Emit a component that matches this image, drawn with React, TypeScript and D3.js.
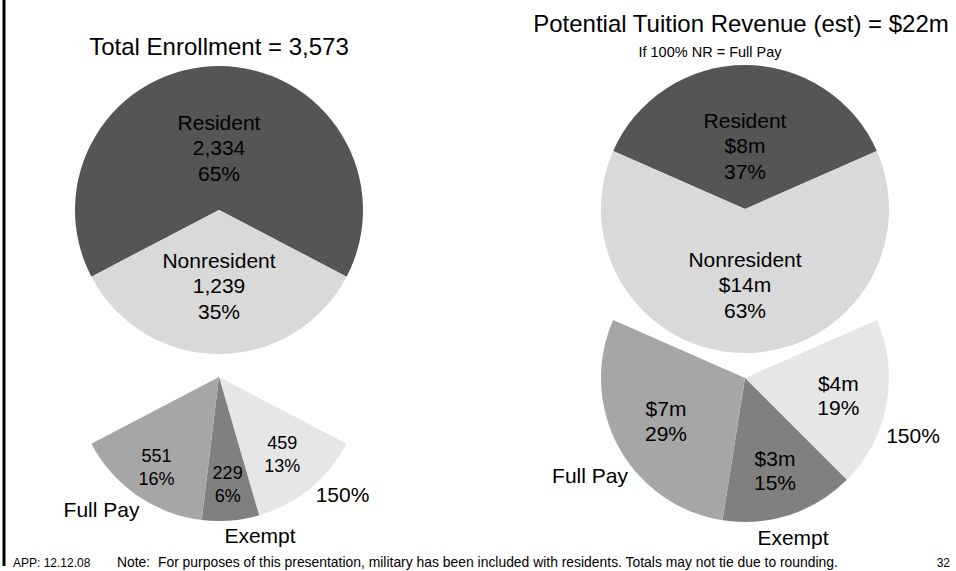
import React from "react";
import * as d3 from "d3";

// ---------- data ----------
const topCategories = ["Resident", "Nonresident"];
const enrollValues = [2334, 1239];
const enrollLabels = [
  ["Resident", "2,334", "65%"],
  ["Nonresident", "1,239", "35%"],
];
const revenueValues = [8.1, 13.9]; // $m
const revenueLabels = [
  ["Resident", "$8m", "37%"],
  ["Nonresident", "$14m", "63%"],
];

const nrCategories = ["150%", "Exempt", "Full Pay"];
const nrEnrollValues = [459, 229, 551];
const nrEnrollLabels = [
  ["459", "13%"],
  ["229", "6%"],
  ["551", "16%"],
];
const nrRevenueValues = [4.2, 3.3, 6.4]; // $m
const nrRevenueLabels = [
  ["$4m", "19%"],
  ["$3m", "15%"],
  ["$7m", "29%"],
];

const leftTitle = "Total Enrollment = 3,573";
const rightTitle = "Potential Tuition Revenue (est) = $22m";
const rightSubtitle = "If 100% NR = Full Pay";
const footLeft = "APP: 12.12.08";
const footNote =
  "Note:  For purposes of this presentation, military has been included with residents. Totals may not tie due to rounding.";
const footPage = "32";

// ---------- styles ----------
const FONT = "'Liberation Sans', Arial, Helvetica, sans-serif";
const topColors: Record<string, string> = {
  Resident: "#555555",
  Nonresident: "#d9d9d9",
};
const nrColors: Record<string, string> = {
  "150%": "#e6e6e6",
  Exempt: "#808080",
  "Full Pay": "#a6a6a6",
};

type PieCfg = {
  cx: number;
  cy: number;
  r: number;
  dy: number; // offset of the exploded breakdown
  values: number[];
  labels: string[][];
  labelR: number[]; // [Resident, Nonresident]
  nrValues: number[];
  nrLabels: string[][];
  nrLabelR: number[];
  nrFont: number;
  nrLh: number;
  outside: { name: string; dx: number; dy: number }[];
};

function MultiLine({
  x,
  cy,
  lines,
  fs,
  lh,
}: {
  x: number;
  cy: number;
  lines: string[];
  fs: number;
  lh: number;
}) {
  const n = lines.length;
  return (
    <text textAnchor="middle" fontSize={fs} fontFamily={FONT} fill="#000">
      {lines.map((t, i) => (
        <tspan key={i} x={x} y={cy + (i - (n - 1) / 2) * lh + 0.358 * fs}>
          {t}
        </tspan>
      ))}
    </text>
  );
}

function PiePair(cfg: PieCfg) {
  const { cx, cy, r, dy } = cfg;
  const total = d3.sum(cfg.values);
  const nrShare = cfg.values[1] / total;
  const start = Math.PI - nrShare * Math.PI;
  // order: Nonresident first (centered at bottom), then Resident
  const topArcs = d3
    .pie<number>()
    .sort(null)
    .startAngle(start)
    .endAngle(start + 2 * Math.PI)([cfg.values[1], cfg.values[0]]);
  const nrArc = topArcs[0];
  const resArc = topArcs[1];
  const arcGen = d3.arc<d3.PieArcDatum<number>>().innerRadius(0).outerRadius(r);

  const bottomArcs = d3
    .pie<number>()
    .sort(null)
    .startAngle(nrArc.startAngle)
    .endAngle(nrArc.endAngle)(cfg.nrValues);

  const polar = (a: number, rr: number, ox: number, oy: number) => [
    ox + rr * Math.sin(a),
    oy - rr * Math.cos(a),
  ];
  const mid = (d: d3.PieArcDatum<number>) => (d.startAngle + d.endAngle) / 2;

  const [rx, ry] = polar(mid(resArc), cfg.labelR[0], cx, cy);
  const [nx, ny] = polar(mid(nrArc), cfg.labelR[1], cx, cy);

  return (
    <g>
      <g transform={`translate(${cx},${cy})`}>
        <path d={arcGen(resArc) || ""} fill={topColors[topCategories[0]]} />
        <path d={arcGen(nrArc) || ""} fill={topColors[topCategories[1]]} />
      </g>
      <MultiLine x={rx} cy={ry} lines={cfg.labels[0]} fs={21} lh={25.5} />
      <MultiLine x={nx} cy={ny} lines={cfg.labels[1]} fs={21} lh={25.5} />

      <g transform={`translate(${cx},${cy + dy})`}>
        {bottomArcs.map((a, i) => (
          <path key={i} d={arcGen(a) || ""} fill={nrColors[nrCategories[i]]} />
        ))}
      </g>
      {bottomArcs.map((a, i) => {
        const [lx, ly] = polar(mid(a), cfg.nrLabelR[i], cx, cy + dy);
        return (
          <MultiLine
            key={i}
            x={lx}
            cy={ly}
            lines={cfg.nrLabels[i]}
            fs={cfg.nrFont}
            lh={cfg.nrLh}
          />
        );
      })}
      {cfg.outside.map((o, i) => (
        <text
          key={i}
          x={cx + o.dx}
          y={cy + dy + o.dy}
          textAnchor="middle"
          fontSize={21}
          fontFamily={FONT}
          fill="#000"
        >
          {o.name}
        </text>
      ))}
    </g>
  );
}

export default function App() {
  const W = 956;
  const H = 571;
  return (
    <svg
      width={W}
      height={H}
      viewBox={`0 0 ${W} ${H}`}
      style={{ position: "absolute", left: 0, top: 0, background: "#fff" }}
    >
      <rect x={0} y={0} width={W} height={H} fill="#fff" />
      <line x1={4} y1={0} x2={4} y2={566} stroke="#000" strokeWidth={3} />

      <text x={219} y={55} textAnchor="middle" fontSize={24} fontFamily={FONT}>
        {leftTitle}
      </text>
      <text x={741} y={32} textAnchor="middle" fontSize={24} fontFamily={FONT}>
        {rightTitle}
      </text>
      <text x={710} y={57} textAnchor="middle" fontSize={14.5} fontFamily={FONT}>
        {rightSubtitle}
      </text>

      <PiePair
        cx={219}
        cy={210}
        r={144}
        dy={167}
        values={enrollValues}
        labels={enrollLabels}
        labelR={[62.5, 75.5]}
        nrValues={nrEnrollValues}
        nrLabels={nrEnrollLabels}
        nrLabelR={[100, 107, 110]}
        nrFont={18}
        nrLh={23}
        outside={[
          { name: "Full Pay", dx: -117.5, dy: 140 },
          { name: "Exempt", dx: 41, dy: 166 },
          { name: "150%", dx: 123.5, dy: 125 },
        ]}
      />
      <PiePair
        cx={745}
        cy={209}
        r={144}
        dy={169}
        values={revenueValues}
        labels={revenueLabels}
        labelR={[63.5, 75.5]}
        nrValues={nrRevenueValues}
        nrLabels={nrRevenueLabels}
        nrLabelR={[95, 97, 90]}
        nrFont={21}
        nrLh={24.5}
        outside={[
          { name: "Full Pay", dx: -155, dy: 105 },
          { name: "Exempt", dx: 48, dy: 167 },
          { name: "150%", dx: 168, dy: 65 },
        ]}
      />

      <text x={13} y={567} fontSize={12} fontFamily={FONT}>
        {footLeft}
      </text>
      <text x={117} y={567} fontSize={13.9} fontFamily={FONT} style={{ whiteSpace: "pre" }}>
        {footNote}
      </text>
      <text x={950} y={567} textAnchor="end" fontSize={12} fontFamily={FONT}>
        {footPage}
      </text>
    </svg>
  );
}
